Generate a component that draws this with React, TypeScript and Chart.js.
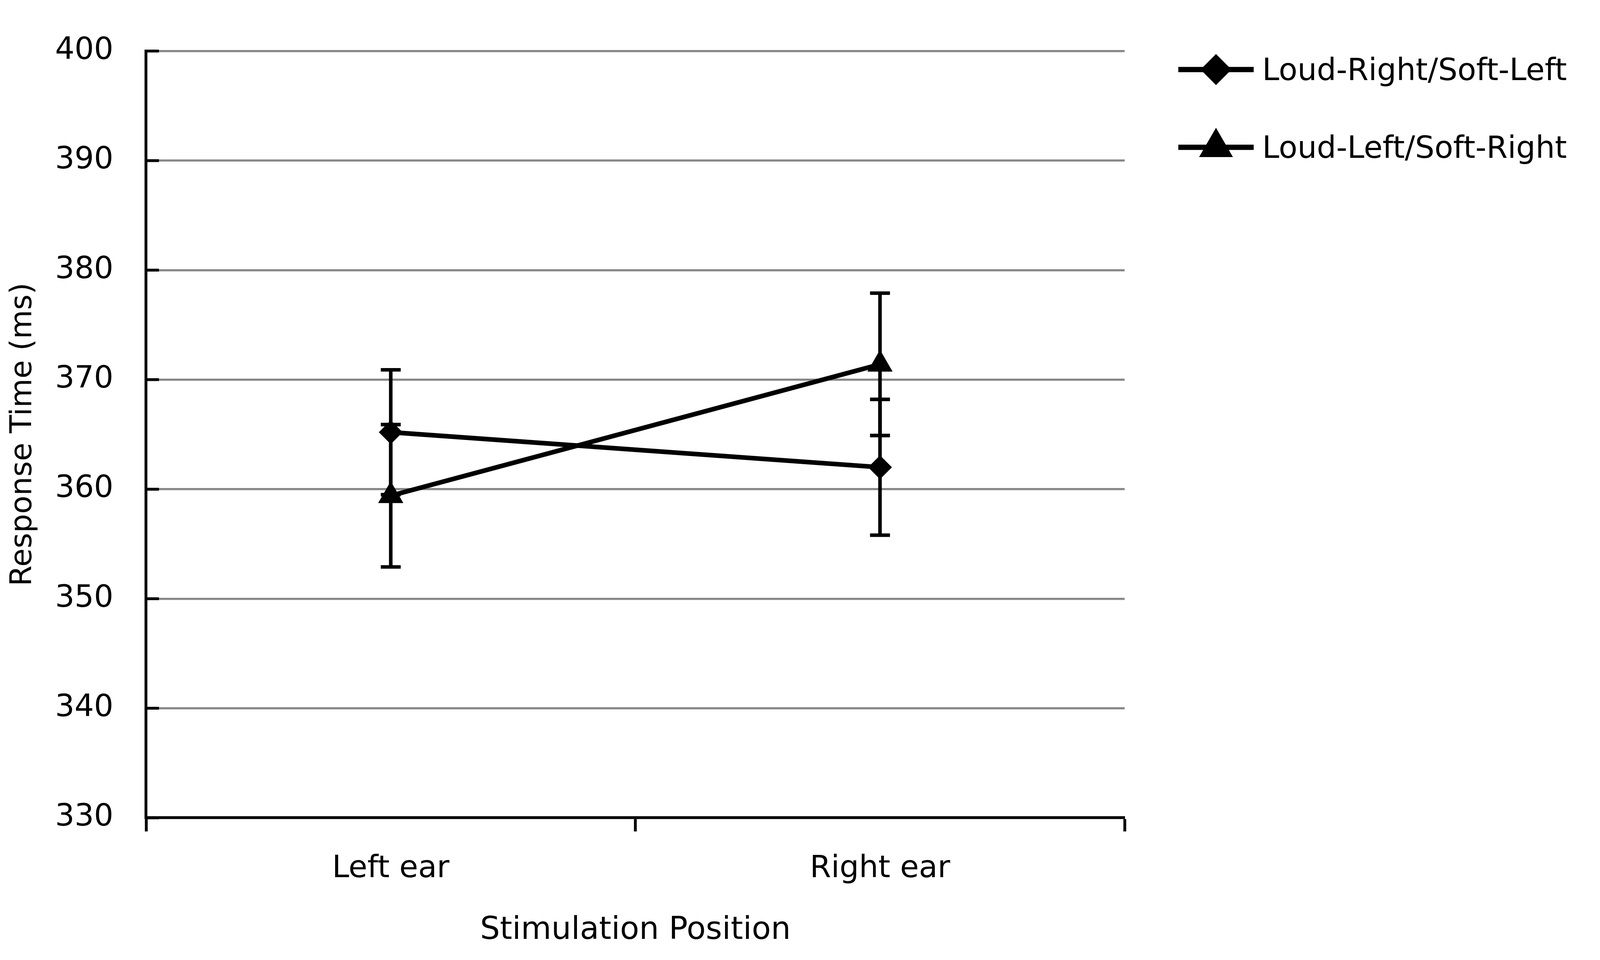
import { useEffect, useRef } from 'react';
import { Chart, registerables } from 'chart.js';
import { drawPoint } from 'chart.js/helpers';

Chart.register(...registerables);

const categories = ['Left ear', 'Right ear'];
const seriesNames = ['Loud-Right/Soft-Left', 'Loud-Left/Soft-Right'];
const loudRightMeans = [365.2, 362.0];
const loudRightErrors = [5.7, 6.2];
const loudLeftMeans = [359.4, 371.4];
const loudLeftErrors = [6.5, 6.5];
const yMin = 330;
const yMax = 400;
const yStep = 10;

const errors = [loudRightErrors, loudLeftErrors];
const markerStyles = ['rectRot', 'triangle'];
const markerSizes = [33, 40];

const FONT = '"DejaVu Sans", Verdana, sans-serif';

// reference is 4500 x 2457; sizes below are in those pixels, scaled to the window
const REF_W = 4500;
const REF_H = 2457;

export default function App() {
    const boxRef = useRef<HTMLDivElement>(null);
    const canvasRef = useRef<HTMLCanvasElement>(null);
    useEffect(() => {
        document.body.style.margin = '0';
        if (canvasRef.current === null || boxRef.current === null) return;
        const ctx = canvasRef.current.getContext('2d');
        if (ctx === null) return;
        const kx = boxRef.current.clientWidth / REF_W;
        const ky = boxRef.current.clientHeight / REF_H;
        const k = kx;

        // whiskers with caps, drawn from the error arrays through the y scale
        const errorBarPlugin = {
            id: 'errorBars',
            afterDatasetsDraw(chart: any) {
                const c = chart.ctx;
                const y = chart.scales.y;
                c.save();
                c.strokeStyle = '#000';
                c.lineWidth = 10 * k;
                chart.data.datasets.forEach((ds: any, i: number) => {
                    const meta = chart.getDatasetMeta(i);
                    meta.data.forEach((pt: any, j: number) => {
                        const v = ds.data[j];
                        const e = errors[i][j];
                        const top = y.getPixelForValue(v + e);
                        const bot = y.getPixelForValue(v - e);
                        const cap = 28 * k;
                        c.beginPath();
                        c.moveTo(pt.x, top);
                        c.lineTo(pt.x, bot);
                        c.moveTo(pt.x - cap, top);
                        c.lineTo(pt.x + cap, top);
                        c.moveTo(pt.x - cap, bot);
                        c.lineTo(pt.x + cap, bot);
                        c.stroke();
                    });
                });
                c.restore();
            },
        };

        // short inward tick marks on the value axis
        const innerTicksPlugin = {
            id: 'innerTicks',
            beforeDatasetsDraw(chart: any) {
                const c = chart.ctx;
                const y = chart.scales.y;
                const left = chart.chartArea.left;
                c.save();
                c.strokeStyle = '#000';
                c.lineWidth = 8 * k;
                y.ticks.forEach((t: any) => {
                    const py = y.getPixelForValue(t.value);
                    c.beginPath();
                    c.moveTo(left, py);
                    c.lineTo(left + 36 * k, py);
                    c.stroke();
                });
                c.restore();
            },
        };

        const legendPlugin = {
            id: 'sideLegend',
            afterDraw(chart: any) {
                const c = chart.ctx;
                const rows = [178, 377];
                c.save();
                chart.data.datasets.forEach((ds: any, i: number) => {
                    const ry = rows[i] * ky;
                    c.strokeStyle = '#000';
                    c.lineWidth = 15 * k;
                    c.beginPath();
                    c.moveTo(3314 * kx, ry);
                    c.lineTo(3526 * kx, ry);
                    c.stroke();
                    c.fillStyle = '#000';
                    drawPoint(c, {
                        pointStyle: markerStyles[i],
                        radius: markerSizes[i] * k,
                        rotation: 0,
                        borderWidth: 1,
                    } as any, 3420 * kx, ry);
                    c.font = `${86 * k}px ${FONT}`;
                    c.textBaseline = 'middle';
                    c.textAlign = 'left';
                    c.fillText(ds.label, 3550 * kx, ry + 7 * ky);
                });
                c.restore();
            },
        };

        const chart = new Chart(ctx, {
            type: 'line',
            data: {
                labels: categories,
                datasets: [loudRightMeans, loudLeftMeans].map((d, i) => ({
                    label: seriesNames[i],
                    data: d,
                    borderColor: '#000',
                    borderWidth: 13 * k,
                    pointStyle: markerStyles[i] as any,
                    pointRadius: markerSizes[i] * k,
                    pointBackgroundColor: '#000',
                    pointBorderColor: '#000',
                    pointBorderWidth: 1,
                    tension: 0,
                })),
            },
            options: {
                animation: false,
                responsive: true,
                maintainAspectRatio: false,
                layout: {
                    padding: {
                        left: 0,
                        top: 114 * ky,
                        right: (REF_W - 3163) * kx,
                        bottom: 0,
                    },
                },
                plugins: {
                    legend: { display: false },
                    tooltip: { enabled: false },
                },
                scales: {
                    x: {
                        offset: true,
                        afterFit: (s: any) => { s.height = (REF_H - 2093) * ky; },
                        grid: {
                            offset: true,
                            drawOnChartArea: false,
                            drawTicks: true,
                            tickLength: 35 * ky,
                            tickColor: '#000',
                            tickWidth: 8 * k,
                        },
                        border: { color: '#000', width: 8 * k },
                        ticks: {
                            color: '#000',
                            padding: 50 * ky,
                            font: { family: FONT, size: 86 * k },
                        },
                        title: {
                            display: true,
                            text: 'Stimulation Position',
                            color: '#000',
                            padding: { top: 0, bottom: 27 * ky },
                            font: { family: FONT, size: 88 * k },
                        },
                    },
                    y: {
                        min: yMin,
                        max: yMax,
                        afterFit: (s: any) => { s.width = 411 * kx; },
                        ticks: {
                            stepSize: yStep,
                            color: '#000',
                            padding: 92 * kx,
                            font: { family: FONT, size: 86 * k },
                        },
                        grid: {
                            color: '#878787',
                            lineWidth: 6 * k,
                            drawTicks: false,
                        },
                        border: { color: '#000', width: 8 * k },
                        title: {
                            display: true,
                            text: 'Response Time (ms)',
                            color: '#000',
                            padding: { top: 16 * kx, bottom: 0 },
                            font: { family: FONT, size: 84 * k },
                        },
                    },
                },
            },
            plugins: [innerTicksPlugin, errorBarPlugin, legendPlugin],
        });

        return () => {
            chart.destroy();
        };
    }, []);

    return (
        <div
            ref={boxRef}
            style={{
                position: 'fixed',
                left: 0,
                top: 0,
                width: '100vw',
                height: '100vh',
                background: '#fff',
                overflow: 'hidden',
            }}
        >
            <canvas ref={canvasRef}></canvas>
        </div>
    );
}
